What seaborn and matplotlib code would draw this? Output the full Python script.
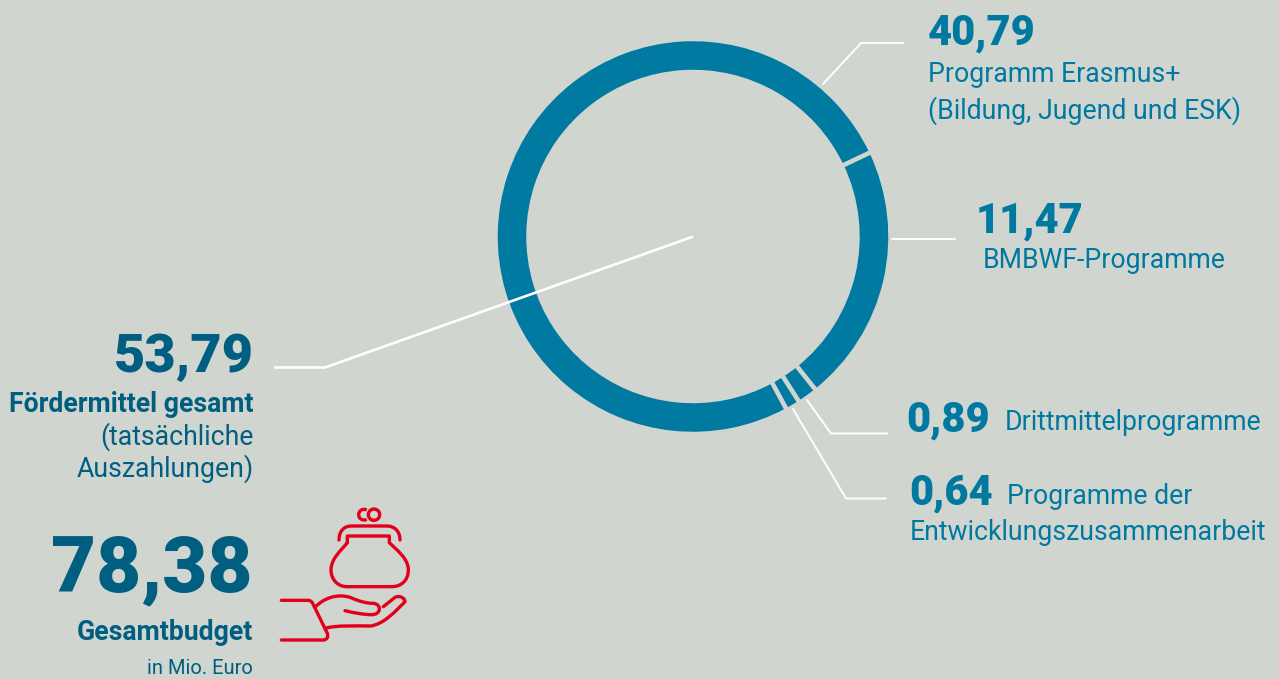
import matplotlib
matplotlib.use('Agg')
import matplotlib.pyplot as plt
from matplotlib.patches import PathPatch, Circle, Arc
from matplotlib.path import Path
import seaborn as sns

# ===== data =====
programmes = ['BMBWF-Programme', 'Drittmittelprogramme', 'Programme der Entwicklungszusammenarbeit', 'Programm Erasmus+']
funding = [11.47, 0.89, 0.64, 40.79]
total_funding = '53,79'
total_budget = '78,38'

# ===== params =====
BG = '#D0D5D0'
RING = '#007AA1'
DARK = '#005F80'
LIGHT = '#0079A0'
RED = '#E2001A'
W, H = 1279, 679
CX, CY = 693, 236.5
R_OUT = 197.5
START_ANGLE = 25.4
TXT = 19.2
ICON_LW = 2.4

sns.set_theme(style='white', rc={'figure.facecolor': BG, 'axes.facecolor': 'none'})
plt.rcParams['font.family'] = ['Roboto', 'DejaVu Sans']

fig = plt.figure(figsize=(W / 100, H / 100), dpi=100)

# ring
ax_pie = fig.add_axes([(CX - R_OUT) / W, 1 - (CY + R_OUT) / H, 2 * R_OUT / W, 2 * R_OUT / H])
ax_pie.pie(funding, colors=sns.color_palette([RING] * 4), startangle=START_ANGLE, counterclock=False,
           radius=1, wedgeprops={'width': 33 / R_OUT, 'edgecolor': BG, 'linewidth': 3.2})
ax_pie.set_xlim(-1, 1)
ax_pie.set_ylim(-1, 1)

# overlay in pixel coords
ax = fig.add_axes([0, 0, 1, 1])
ax.set_xlim(0, W)
ax.set_ylim(H, 0)
ax.axis('off')

# leader lines
leaders = [
    ([823, 861, 903], [84, 43, 43], 1.4),
    ([892, 955], [238.5, 238.5], 1.4),
    ([807, 831, 887], [400, 433.5, 433.5], 1.4),
    ([793, 846, 886], [409, 498.5, 498.5], 1.4),
    ([692, 325, 275], [237, 367.5, 367.5], 1.9),
]
for xs, ys, lw in leaders:
    ax.plot(xs, ys, color='white', lw=lw, solid_joinstyle='miter')


def label(x, y, s, size, color=LIGHT, weight='normal', ha='left'):
    ax.text(x, y, s, fontsize=size, color=color, fontweight=weight, ha=ha, va='baseline')


def num(v):
    return f'{v:.2f}'.replace('.', ',')


label(928, 44.5, num(funding[3]), 30, weight=900)
label(928, 81.5, programmes[3], TXT)
label(928, 118.5, '(Bildung, Jugend und ESK)', TXT)

label(976, 232.5, num(funding[0]), 30, weight=900)
label(983, 268.5, programmes[0], TXT)

label(906.5, 431.5, num(funding[1]), 30, weight=900)
label(1005, 430.5, programmes[1], TXT)

label(909, 504.5, num(funding[2]), 30, weight=900)
label(1007, 503.5, 'Programme der', TXT)
label(910, 540.5, 'Entwicklungszusammenarbeit', TXT)

label(253.5, 371.5, total_funding, 39, color=DARK, weight=900, ha='right')
label(253.5, 412.5, 'Fördermittel gesamt', TXT, color=DARK, weight='bold', ha='right')
label(253.5, 444.5, '(tatsächliche', TXT, color=DARK, ha='right')
label(253.5, 476.5, 'Auszahlungen)', TXT, color=DARK, ha='right')
label(252.5, 591, total_budget, 56, color=DARK, weight=900, ha='right')
label(253.5, 640.5, 'Gesamtbudget', TXT, color=DARK, weight='bold', ha='right')
label(252.5, 674.5, 'in Mio. Euro', 14.5, color=DARK, ha='right')


def icon_xy(x, y):
    return (270 + x / 3, 500 + y / 3)


def draw_icon(verts, codes):
    p = Path([icon_xy(*v) for v in verts], codes)
    ax.add_patch(PathPatch(p, fc='none', ec=RED, lw=ICON_LW, capstyle='round', joinstyle='round'))


M, L, C = Path.MOVETO, Path.LINETO, Path.CURVE4
draw_icon([(232, 128), (232, 108), (358, 108), (358, 128),
           (380, 150), (415, 175), (415, 210),
           (415, 240), (395, 260), (365, 260),
           (230, 260),
           (205, 260), (183, 240), (183, 210),
           (183, 175), (215, 150), (232, 128)],
          [M, L, L, L, C, C, C, C, C, C, L, C, C, C, C, C, C])
draw_icon([(207, 120), (207, 95), (220, 78), (245, 78), (350, 78), (375, 78), (390, 95), (390, 120)],
          [M, C, C, C, L, C, C, C])
draw_icon([(34, 301), (115, 301), (124, 301), (128, 310), (128, 310), (172, 400), (178, 420), (160, 420), (160, 420), (34, 420)],
          [M, L, C, C, C, L, C, C, C, L])
draw_icon([(135, 322), (160, 295), (200, 280), (240, 292),
           (270, 305), (290, 310), (310, 310),
           (335, 312), (335, 344), (305, 344),
           (280, 344), (250, 338), (225, 332)],
          [M, C, C, C, C, C, C, C, C, C, C, C, C])
draw_icon([(165, 385), (200, 375), (260, 378), (300, 378),
           (340, 375), (380, 330), (405, 305),
           (405, 295), (390, 285), (375, 292),
           (340, 320)],
          [M, C, C, C, C, C, C, C, C, C, L])
cx, cy = icon_xy(312, 44)
ax.add_patch(Circle((cx, cy), 17 / 3, fc='none', ec=RED, lw=ICON_LW))
cx, cy = icon_xy(282, 44)
ax.add_patch(Arc((cx, cy), 32 / 3, 32 / 3, theta1=60, theta2=300, ec=RED, lw=ICON_LW))

fig.savefig('out.png', dpi=100, facecolor=BG)
